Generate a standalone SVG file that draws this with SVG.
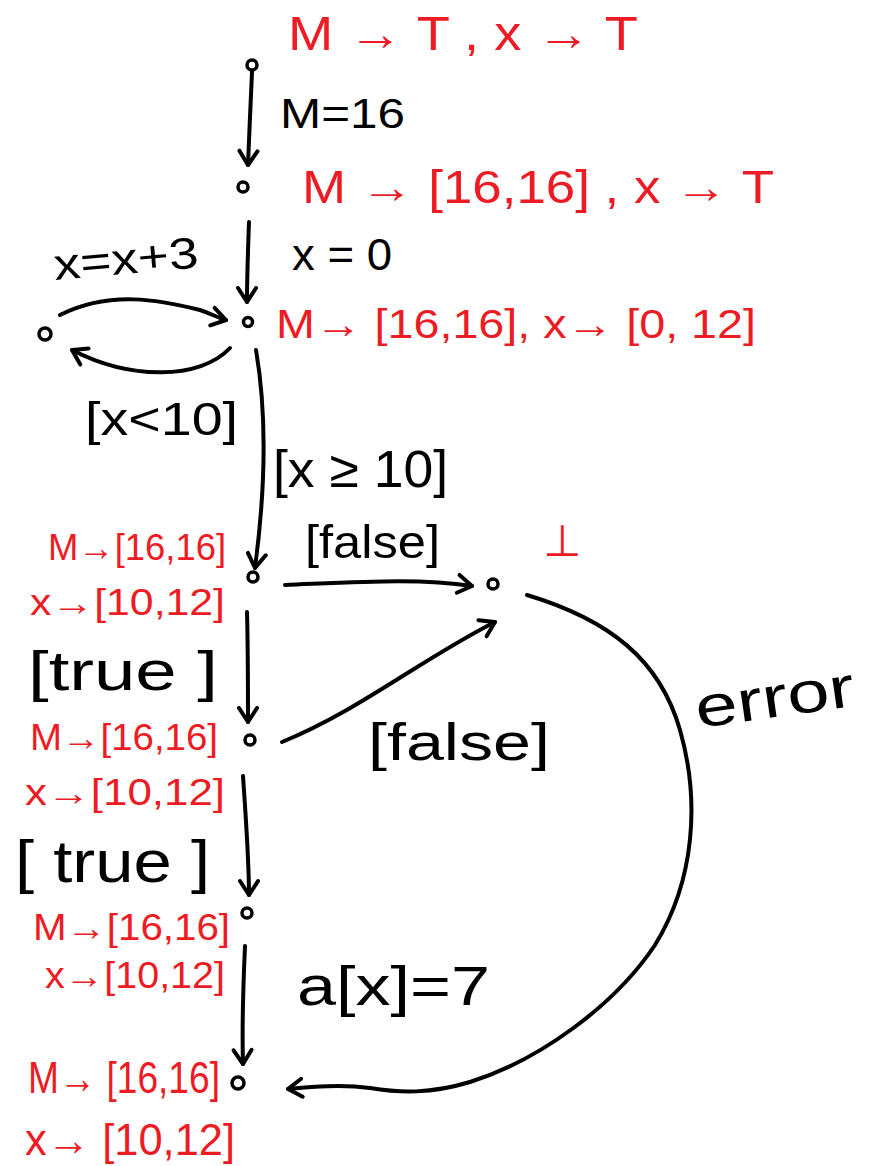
<svg xmlns="http://www.w3.org/2000/svg" width="872" height="1166" viewBox="0 0 872 1166">
<defs>
<style>
.t{font-family:"Liberation Sans","DejaVu Sans",sans-serif;}
.r{fill:#ED1C24;}
.k{fill:#000;}
.node{fill:none;stroke:#000;stroke-width:3.5;}
.e{fill:none;stroke:#000;stroke-width:4;stroke-linecap:round;stroke-linejoin:round;marker-end:url(#ah);}
</style>
<marker id="ah" markerUnits="userSpaceOnUse" markerWidth="30" markerHeight="30" refX="15" refY="10" orient="auto" overflow="visible">
<path d="M1,1 L15,10 L1,19" fill="none" stroke="#000" stroke-width="4" stroke-linecap="round" stroke-linejoin="round"/>
</marker>
</defs>
<rect width="872" height="1166" fill="#fff"/>

<g id="connectors">
<path class="e" d="M252,72 C251,100 249,135 248,165"/>
<path class="e" d="M249,222 C248,250 247,275 247,302"/>
<path class="e" d="M60,315 C110,290 160,300 200,310 C212,314 218,318 226,320"/>
<path class="e" d="M230,348 C200,380 130,380 72,350"/>
<path class="e" d="M256,350 C268,420 264,500 255,568"/>
<path class="e" d="M285,585 C360,582 420,578 472,586"/>
<path class="e" d="M247,612 C248,650 248,690 248,722"/>
<path class="e" d="M282,742 C360,710 420,660 495,622"/>
<path class="e" d="M243,776 C246,820 249,860 249,895"/>
<path class="e" d="M245,946 C243,990 242,1030 243,1064"/>
<path class="e" d="M527,595 C610,620 660,660 680,730 C700,800 695,880 655,945 C615,1005 540,1060 470,1082 C430,1094 400,1093 370,1088 C340,1084 310,1087 288,1089"/>
</g>

<g id="n0"><circle class="node" cx="252" cy="65" r="5"/><text class="t r" x="288" y="50" font-size="48" textLength="350" lengthAdjust="spacingAndGlyphs">M → T , x → T</text></g>
<g id="n1"><circle class="node" cx="243" cy="187" r="5"/><text class="t r" x="302" y="203" font-size="46" textLength="472" lengthAdjust="spacingAndGlyphs">M → [16,16] , x → T</text></g>
<g id="n2"><circle class="node" cx="248" cy="322" r="4.5"/><text class="t r" x="276" y="338" font-size="40" textLength="480" lengthAdjust="spacingAndGlyphs">M→ [16,16], x→ [0, 12]</text></g>
<g id="n3"><circle class="node" cx="45" cy="334" r="6"/></g>
<g id="n4"><circle class="node" cx="253" cy="577" r="5"/>
<text class="t r" x="48" y="560" font-size="36" textLength="178" lengthAdjust="spacingAndGlyphs">M→[16,16]</text>
<text class="t r" x="30" y="615" font-size="36" textLength="195" lengthAdjust="spacingAndGlyphs">x→[10,12]</text></g>
<g id="n5"><circle class="node" cx="493" cy="584" r="5"/><text class="t r" x="543" y="556" font-size="44">⊥</text></g>
<g id="n6"><circle class="node" cx="250" cy="740" r="5"/>
<text class="t r" x="30" y="750" font-size="36" textLength="188" lengthAdjust="spacingAndGlyphs">M→[16,16]</text>
<text class="t r" x="25" y="805" font-size="36" textLength="200" lengthAdjust="spacingAndGlyphs">x→[10,12]</text></g>
<g id="n7"><circle class="node" cx="247" cy="913" r="5"/>
<text class="t r" x="33" y="940" font-size="36" textLength="197" lengthAdjust="spacingAndGlyphs">M→[16,16]</text>
<text class="t r" x="45" y="988" font-size="36" textLength="180" lengthAdjust="spacingAndGlyphs">x→[10,12]</text></g>
<g id="n8"><circle class="node" cx="238" cy="1083" r="6"/>
<text class="t r" x="28" y="1093" font-size="44" textLength="192" lengthAdjust="spacingAndGlyphs">M→ [16,16]</text>
<text class="t r" x="25" y="1155" font-size="44" textLength="210" lengthAdjust="spacingAndGlyphs">x→ [10,12]</text></g>

<g id="labels">
<text class="t k" x="280" y="128" font-size="42" textLength="125" lengthAdjust="spacingAndGlyphs">M=16</text>
<text class="t k" x="292" y="270" font-size="44" textLength="100" lengthAdjust="spacingAndGlyphs">x = 0</text>
<text class="t k" x="55" y="280" font-size="44" textLength="145" lengthAdjust="spacingAndGlyphs" transform="rotate(-5 55 280)">x=x+3</text>
<text class="t k" x="85" y="435" font-size="46" textLength="153" lengthAdjust="spacingAndGlyphs">[x&lt;10]</text>
<text class="t k" x="273" y="487" font-size="52" textLength="175" lengthAdjust="spacingAndGlyphs">[x ≥ 10]</text>
<text class="t k" x="305" y="558" font-size="46" textLength="135" lengthAdjust="spacingAndGlyphs">[false]</text>
<text class="t k" x="28" y="690" font-size="56" textLength="190" lengthAdjust="spacingAndGlyphs">[true ]</text>
<text class="t k" x="368" y="760" font-size="52" textLength="182" lengthAdjust="spacingAndGlyphs">[false]</text>
<text class="t k" x="698" y="728" font-size="58" textLength="160" lengthAdjust="spacingAndGlyphs" transform="rotate(-8 698 728)">error</text>
<text class="t k" x="15" y="882" font-size="60" textLength="195" lengthAdjust="spacingAndGlyphs">[ true ]</text>
<text class="t k" x="297" y="1005" font-size="56" textLength="193" lengthAdjust="spacingAndGlyphs">a[x]=7</text>
</g>
</svg>
